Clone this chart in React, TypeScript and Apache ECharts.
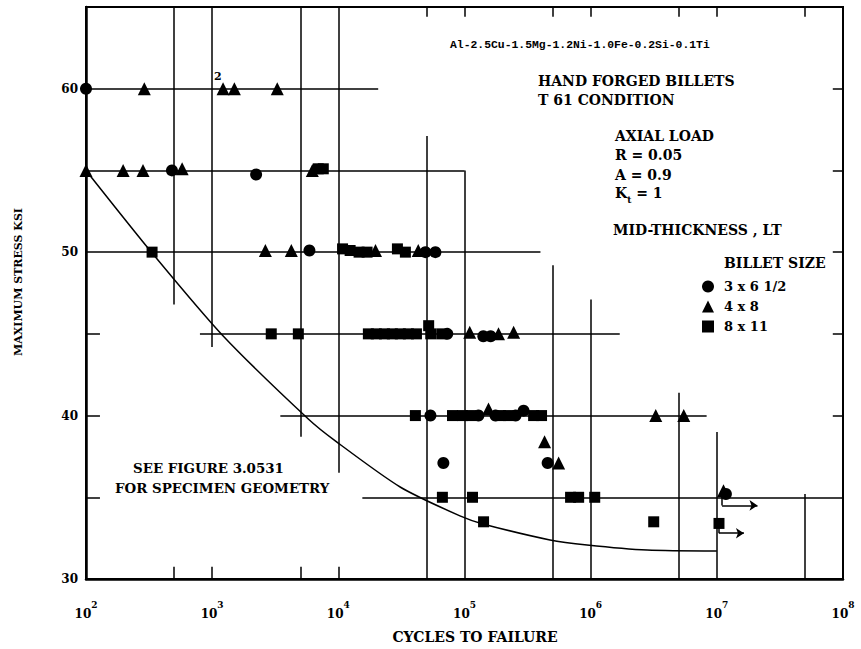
import React, { useEffect, useRef } from 'react';
import * as echarts from 'echarts';

// ---- data (cycles, ksi) ----
const circlePoints: [number, number][] = [
  [100, 60], [480, 55], [2230, 54.75],
  [5900, 50.1], [49000, 50], [58800, 50],
  [73000, 45], [141000, 44.85], [161000, 44.85],
  [53700, 40], [129000, 40], [176000, 40], [254000, 40], [294000, 40.3],
  [68000, 37.1], [456000, 37.1],
  [11800000, 35.2],
];
const trianglePoints: [number, number][] = [
  [290, 60], [1220, 60], [1500, 60], [3280, 60],
  [100, 55], [197, 55], [283, 55], [578, 55.1], [6220, 55],
  [2640, 50.1], [4240, 50.1], [19700, 50.1], [43000, 50.1],
  [110000, 45.1], [186000, 45], [245000, 45.1],
  [155000, 40.4], [3280000, 40], [5470000, 40],
  [431000, 38.4], [557000, 37.1],
  [11300000, 35.4],
];
const squarePoints: [number, number][] = [
  [6930, 55.1], [7600, 55.1],
  [334, 50], [10800, 50.2], [12400, 50.1], [14600, 50], [16900, 50], [29400, 50.2], [34000, 50],
  [2940, 45], [4820, 45], [17300, 45], [20000, 45], [23200, 45], [26800, 45], [31000, 45],
  [35900, 45], [41600, 45], [52000, 45.5], [54000, 45], [66000, 45],
  [40800, 40], [80300, 40], [96300, 40], [112000, 40], [193000, 40], [223000, 40], [353000, 40], [408000, 40],
  [66800, 35], [115700, 35], [693000, 35], [803000, 35], [1077000, 35],
  [141600, 33.5], [3160000, 33.5], [10400000, 33.4],
];
const curvePoints: [number, number][] = [
  [100, 55], [334, 49.95], [1222, 44.87], [5780, 39.79], [9460, 38.45],
  [30900, 35.63], [92000, 33.86], [140000, 33.37], [476000, 32.39],
  [935000, 32.08], [2800000, 31.77], [10000000, 31.71],
];
// horizontal grid segments: [fromCycles, toCycles, ksi]
const hLines: [number, number, number][] = [
  [100, 20700, 60], [100, 100000, 55], [100, 400000, 50],
  [800, 1700000, 45], [3470, 8300000, 40], [15500, 100000000, 35],
  [100, 129, 45], [100, 129, 40], [100, 129, 35],
  [83000000, 100000000, 40], [83000000, 100000000, 45], [83000000, 100000000, 50],
  [83000000, 100000000, 55], [83000000, 100000000, 60],
];
// vertical grid segments: [cycles, fromKsi, toKsi]
const vLines: [number, number, number][] = [
  [500, 46.8, 65], [1000, 44.2, 65], [5000, 38.7, 65], [10000, 36.5, 65],
  [50000, 30, 57.1], [100000, 30, 55], [500000, 30, 49.2], [1000000, 30, 47.1],
  [5000000, 30, 41.4], [10000000, 30, 39.0], [50000000, 30, 35.2],
  [500, 30, 30.75], [1000, 30, 30.75], [5000, 30, 30.75], [10000, 30, 30.75],
  [50000, 64.4, 65], [100000, 64.4, 65], [500000, 64.4, 65], [1000000, 64.4, 65],
  [5000000, 64.4, 65], [10000000, 64.4, 65], [50000000, 64.4, 65],
];
// run-out marks
const runoutStems: [number, number, number][] = [
  [11000000, 34.5, 35.1], [10400000, 32.8, 33.3],
];
const runoutArrows: [number, number, number][] = [
  [11000000, 21000000, 34.5], [10400000, 16400000, 32.8],
];
const xExponents = [2, 3, 4, 5, 6, 7, 8];
const yLabelValues = [30, 40, 50, 60];
const legendNames = ['3 x 6 1/2', '4 x 8', '8 x 11'];

const SERIF = 'DejaVu Serif';

export default function App() {
  const ref = useRef<HTMLDivElement>(null);
  useEffect(() => {
    if (!ref.current) return;
    const chart = echarts.init(ref.current, null, { renderer: 'svg' });
    const segs = [
      ...hLines.map(([a, b, y]) => ({ coords: [[a, y], [b, y]] })),
      ...vLines.map(([x, a, b]) => ({ coords: [[x, a], [x, b]] })),
      ...runoutStems.map(([x, a, b]) => ({ coords: [[x, a], [x, b]] })),
    ];
    const txt = (text: string, x: number, y: number, extra: any = {}) => ({
      type: 'text', x, y, silent: true,
      style: { text, fill: '#000', fontFamily: SERIF, fontSize: 14, fontWeight: 'bold', align: 'left', verticalAlign: 'middle', ...extra },
    });
    chart.setOption({
      animation: false,
      backgroundColor: '#fff',
      grid: { left: 86, right: 18, top: 7, bottom: 70, show: true, borderColor: '#000', borderWidth: 2, backgroundColor: 'transparent' },
      xAxis: {
        type: 'log', logBase: 10, min: 100, max: 100000000,
        axisLine: { show: true, lineStyle: { color: '#000', width: 2.5 } },
        axisTick: { show: false }, splitLine: { show: false }, minorTick: { show: false },
        axisLabel: {
          margin: 21,
          formatter: (v: number) => {
            const e = Math.round(Math.log10(v));
            return xExponents.includes(e) ? `{b|10}{s|${e}}` : '';
          },
          rich: {
            b: { fontFamily: SERIF, fontSize: 12, fontWeight: 'bold', color: '#000', lineHeight: 20, verticalAlign: 'bottom' },
            s: { fontFamily: SERIF, fontSize: 9, fontWeight: 'bold', color: '#000', lineHeight: 10, verticalAlign: 'top' },
          },
        },
      },
      yAxis: {
        type: 'value', min: 30, max: 65, interval: 5,
        axisLine: { show: true, lineStyle: { color: '#000', width: 2.5 } },
        axisTick: { show: false }, splitLine: { show: false },
        axisLabel: {
          margin: 8, color: '#000', fontFamily: SERIF, fontSize: 12, fontWeight: 'bold',
          formatter: (v: number) => (yLabelValues.includes(v) ? String(v) : ''),
        },
      },
      legend: {
        data: legendNames, orient: 'vertical', left: 697, top: 275,
        itemWidth: 12, itemHeight: 12, itemGap: 7,
        textStyle: { fontFamily: SERIF, fontSize: 13, fontWeight: 'bold', color: '#000', padding: [0, 0, 0, 5] },
        selectedMode: false,
      },
      graphic: [
        txt('Al-2.5Cu-1.5Mg-1.2Ni-1.0Fe-0.2Si-0.1Ti', 450, 45, { fontFamily: 'Liberation Mono', fontSize: 11.4 }),
        txt('HAND FORGED BILLETS', 538, 81),
        txt('T 61 CONDITION', 538, 100),
        txt('AXIAL LOAD', 615, 136),
        txt('R = 0.05', 615, 155),
        txt('A = 0.9', 615, 175),
        txt('{k|K}{t|t}{k| = 1}', 615, 195, {
          rich: {
            k: { fontFamily: SERIF, fontSize: 14, fontWeight: 'bold', fill: '#000', lineHeight: 18, verticalAlign: 'top' },
            t: { fontFamily: SERIF, fontSize: 9, fontWeight: 'bold', fill: '#000', lineHeight: 12, verticalAlign: 'bottom' },
          },
        }),
        txt('MID-THICKNESS , LT', 613, 230),
        txt('BILLET SIZE', 724, 263),
        txt('SEE FIGURE 3.0531', 133, 468, { fontSize: 13.4 }),
        txt('FOR SPECIMEN GEOMETRY', 115, 488, { fontSize: 13.4 }),
        txt('2', 214, 76, { fontSize: 11 }),
        txt('CYCLES TO FAILURE', 475, 637, { align: 'center', fontSize: 14 }),
        {
          type: 'text', x: 18, y: 282, rotation: Math.PI / 2, silent: true,
          style: { text: 'MAXIMUM STRESS KSI', fill: '#000', fontFamily: SERIF, fontSize: 11, fontWeight: 'bold', align: 'center', verticalAlign: 'middle' },
        },
      ],
      series: [
        {
          type: 'lines', coordinateSystem: 'cartesian2d', silent: true, z: 2,
          lineStyle: { color: '#000', width: 1.5, opacity: 1 },
          data: segs,
        },
        {
          type: 'lines', coordinateSystem: 'cartesian2d', silent: true, z: 2,
          symbol: ['none', 'arrow'], symbolSize: 8,
          lineStyle: { color: '#000', width: 1.5, opacity: 1 },
          data: runoutArrows.map(([a, b, y]) => ({ coords: [[a, y], [b, y]] })),
        },
        {
          type: 'line', data: curvePoints, showSymbol: false, smooth: 0.25,
          lineStyle: { color: '#000', width: 1.5 }, silent: true, z: 2,
        },
        { name: legendNames[0], type: 'scatter', symbol: 'circle', symbolSize: 12, data: circlePoints, itemStyle: { color: '#000', opacity: 1 }, z: 3 },
        { name: legendNames[1], type: 'scatter', symbol: 'triangle', symbolSize: 13, data: trianglePoints, itemStyle: { color: '#000', opacity: 1 }, z: 3 },
        { name: legendNames[2], type: 'scatter', symbol: 'rect', symbolSize: 11, data: squarePoints, itemStyle: { color: '#000', opacity: 1 }, z: 3 },
      ],
    });
    return () => chart.dispose();
  }, []);
  return <div ref={ref} style={{ position: 'fixed', left: 0, top: 0, width: 861, height: 649, background: '#fff' }} />;
}
